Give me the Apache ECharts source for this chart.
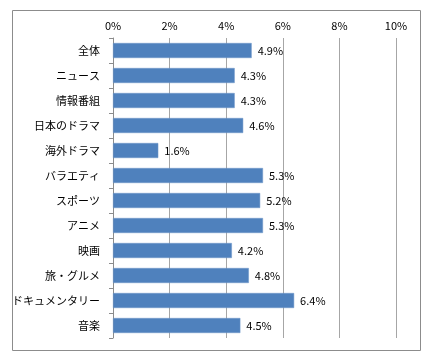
<!DOCTYPE html>
<html><head><meta charset="utf-8">
<script src="https://cdn.jsdelivr.net/npm/echarts@6/dist/echarts.min.js"></script>
<style>html,body{margin:0;padding:0;background:#fff}#c{width:441px;height:364px}</style>
</head><body><div id="c"></div>
<script>
const categories = ['全体','ニュース','情報番組','日本のドラマ','海外ドラマ','バラエティ','スポーツ','アニメ','映画','旅・グルメ','ドキュメンタリー','音楽'];
const values = [4.9,4.3,4.3,4.6,1.6,5.3,5.2,5.3,4.2,4.8,6.4,4.5];
const xTicks = [0,2,4,6,8,10];
const font = '"Noto Sans CJK JP", sans-serif';
const chart = echarts.init(document.getElementById('c'));
chart.setOption({
  animation:false,
  graphic:[{type:'rect',shape:{x:12.5,y:10.5,width:408,height:340},style:{fill:'none',stroke:'#8c8c8c',lineWidth:1},silent:true}],
  grid:{left:113,right:45,top:38,bottom:26},
  xAxis:{type:'value',position:'top',min:xTicks[0],max:xTicks[xTicks.length-1],interval:2,
    axisLine:{show:false},axisTick:{show:false},
    axisLabel:{formatter:'{value}%',color:'#000',fontFamily:font,fontSize:11,margin:7},
    splitLine:{show:true,lineStyle:{color:'#a6a6a6',width:1}}},
  yAxis:{type:'category',inverse:true,data:categories,
    axisLine:{show:true,lineStyle:{color:'#8c8c8c'}},
    axisTick:{show:true,length:4,lineStyle:{color:'#8c8c8c'}},
    axisLabel:{color:'#000',fontFamily:font,fontSize:11,margin:13}},
  series:[{type:'bar',data:values,barWidth:15,
    itemStyle:{color:'#4f81bd',borderColor:'#6f97c9',borderWidth:0.5},
    label:{show:true,position:'right',distance:6,formatter:p=>p.value.toFixed(1)+'%',color:'#000',fontFamily:font,fontSize:11}}]
});
</script></body></html>
